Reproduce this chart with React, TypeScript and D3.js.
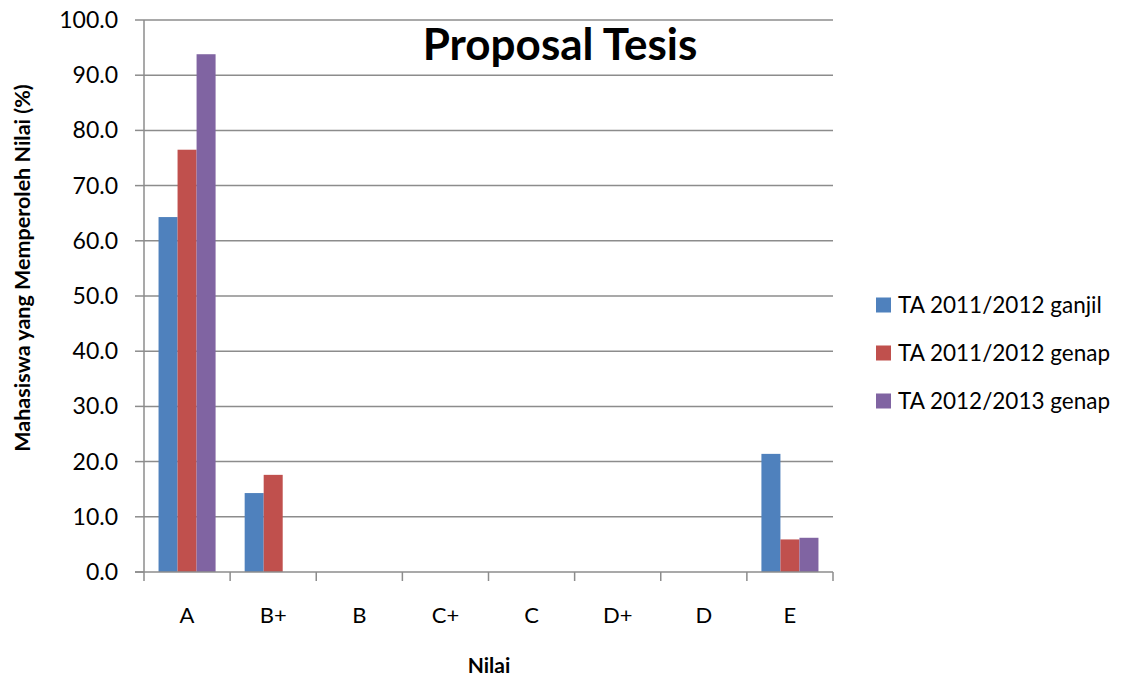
import React from "react";
import * as d3 from "d3";

const categories = ["A", "B+", "B", "C+", "C", "D+", "D", "E"];
const seriesNames = ["TA 2011/2012 ganjil", "TA 2011/2012 genap", "TA 2012/2013 genap"];
const ganjil2011 = [64.3, 14.3, 0, 0, 0, 0, 0, 21.4];
const genap2011 = [76.5, 17.6, 0, 0, 0, 0, 0, 5.9];
const genap2012 = [93.8, 0, 0, 0, 0, 0, 0, 6.2];
const seriesValues = [ganjil2011, genap2011, genap2012];
const colors = ["#4F81BD", "#C0504D", "#8064A2"];
const yTicks = [0, 10, 20, 30, 40, 50, 60, 70, 80, 90, 100];

const W = 1130, H = 681;
const left = 144, right = 833, top = 20, bottom = 572;
const FONT = "Lato, 'Open Sans', sans-serif";

export default function App() {
  const x = d3.scaleBand<string>().domain(categories).range([left, right]).padding(0);
  const inner = d3.scaleBand<number>().domain([0, 1, 2]).range([0, x.bandwidth()]).paddingOuter(0.765).paddingInner(0);
  const y = d3.scaleLinear().domain([0, 100]).range([bottom, top]);
  const boundaries = [...categories.map((c) => x(c) as number), right];
  const grid = "#8c8c8c";
  return (
    <svg width={W} height={H} style={{ position: "absolute", left: 0, top: 0, background: "#fff" }}>
      {yTicks.map((t) => (
        <g key={t}>
          {t > 0 && <line x1={left} x2={right} y1={y(t)} y2={y(t)} stroke={grid} strokeWidth={1.5} />}
          <line x1={135} x2={left} y1={y(t)} y2={y(t)} stroke={grid} strokeWidth={1.5} />
          <text x={118} y={y(t)} dy="0.35em" textAnchor="end" fontFamily={FONT} fontSize={23} fill="#000">
            {t.toFixed(1)}
          </text>
        </g>
      ))}
      {seriesValues.map((vals, si) =>
        vals.map((v, ci) =>
          v > 0 ? (
            <rect
              key={`${si}-${ci}`}
              x={(x(categories[ci]) as number) + (inner(si) as number)}
              y={y(v)}
              width={inner.bandwidth()}
              height={bottom - y(v)}
              fill={colors[si]}
            />
          ) : null
        )
      )}
      <line x1={left} x2={left} y1={top} y2={bottom} stroke={grid} strokeWidth={1.5} />
      <line x1={135} x2={right} y1={bottom} y2={bottom} stroke={grid} strokeWidth={1.5} />
      {boundaries.map((b, i) => (
        <line key={i} x1={b} x2={b} y1={bottom} y2={581} stroke={grid} strokeWidth={1.5} />
      ))}
      {categories.map((c) => (
        <text key={c} x={(x(c) as number) + x.bandwidth() / 2} y={623} textAnchor="middle" fontFamily={FONT} fontSize={22} fill="#000">
          {c}
        </text>
      ))}
      <text x={489} y={673} textAnchor="middle" fontFamily={FONT} fontSize={21} fontWeight="bold" fill="#000">
        Nilai
      </text>
      <text
        transform={`translate(22,268) rotate(-90)`}
        textAnchor="middle"
        dy="0.35em"
        fontFamily={FONT}
        fontSize={21.5}
        fontWeight="bold"
        fill="#000"
      >
        Mahasiswa yang Memperoleh Nilai (%)
      </text>
      <text x={560} y={60} textAnchor="middle" fontFamily={FONT} fontSize={44} fontWeight="bold" fill="#000">
        Proposal Tesis
      </text>
      {seriesNames.map((n, i) => (
        <g key={n} transform={`translate(876,${305 + i * 48})`}>
          <rect x={0} y={-7.5} width={15} height={15} fill={colors[i]} />
          <text x={22} y={0} dy="0.35em" fontFamily={FONT} fontSize={22.5} fill="#000">
            {n}
          </text>
        </g>
      ))}
    </svg>
  );
}
